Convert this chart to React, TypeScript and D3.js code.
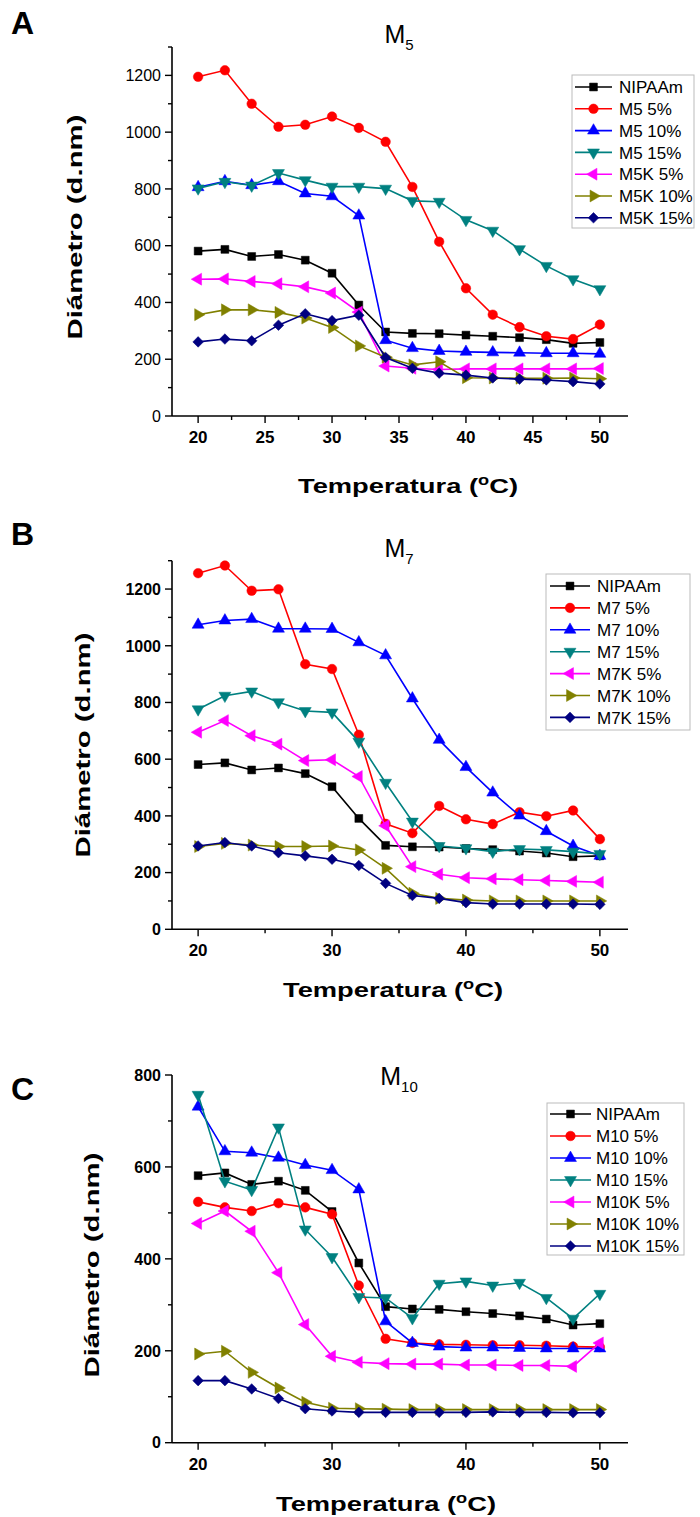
import React from "react";
import * as d3 from "d3";

const temps = [20, 22, 24, 26, 28, 30, 32, 34, 36, 38, 40, 42, 44, 46, 48, 50];

const nipaam = [581, 587, 562, 569, 549, 503, 391, 296, 291, 290, 285, 281, 276, 269, 256, 259];

const m5_5 = [1195, 1218, 1100, 1019, 1026, 1055, 1015, 966, 807, 614, 450, 357, 313, 281, 271, 322];
const m5_10 = [806, 827, 813, 827, 784, 774, 706, 267, 239, 229, 226, 224, 223, 221, 221, 219];
const m5_15 = [802, 825, 812, 856, 831, 808, 808, 801, 758, 755, 691, 653, 588, 529, 482, 447];
const m5k_5 = [482, 483, 474, 466, 455, 433, 366, 176, 168, 164, 166, 166, 166, 166, 166, 167];
const m5k_10 = [357, 374, 374, 365, 345, 312, 247, 207, 180, 191, 135, 134, 133, 133, 134, 131];
const m5k_15 = [261, 271, 265, 320, 360, 336, 355, 206, 168, 151, 144, 134, 130, 127, 121, 113];

const m7_5 = [1256, 1283, 1194, 1199, 935, 918, 686, 372, 339, 435, 388, 371, 413, 399, 419, 318];
const m7_10 = [1074, 1089, 1094, 1060, 1060, 1059, 1012, 966, 814, 668, 572, 482, 401, 346, 294, 259];
const m7_15 = [776, 824, 839, 801, 770, 765, 662, 517, 380, 294, 286, 274, 283, 280, 274, 266];
const m7k_5 = [695, 736, 683, 653, 595, 598, 539, 365, 221, 194, 182, 178, 175, 172, 169, 166];
const m7k_10 = [292, 303, 297, 292, 292, 294, 280, 215, 127, 109, 103, 100, 100, 100, 100, 100];
const m7k_15 = [294, 306, 294, 270, 259, 247, 225, 162, 119, 109, 94, 89, 89, 89, 89, 88];

const m10_5 = [524, 512, 504, 521, 512, 497, 342, 226, 217, 214, 213, 212, 212, 211, 209, 208];
const m10_10 = [731, 634, 631, 620, 604, 593, 551, 264, 217, 209, 207, 207, 206, 205, 205, 205];
const m10_15 = [757, 569, 550, 686, 464, 404, 317, 315, 271, 346, 351, 342, 348, 315, 270, 324];
const m10k_5 = [477, 504, 460, 370, 257, 188, 175, 172, 171, 171, 169, 169, 168, 168, 166, 217];
const m10k_10 = [193, 199, 153, 119, 88, 75, 74, 73, 72, 72, 72, 72, 72, 72, 72, 72];
const m10k_15 = [135, 135, 117, 96, 74, 69, 66, 66, 66, 66, 66, 67, 66, 66, 65, 65];

const colors = ["#000000", "#ff0000", "#0000ff", "#008080", "#ff00ff", "#808000", "#000080"];
const markers = ["square", "circle", "up", "down", "left", "right", "diamond"];

const namesA = ["NIPAAm", "M5 5%", "M5 10%", "M5 15%", "M5K 5%", "M5K 10%", "M5K 15%"];
const namesB = ["NIPAAm", "M7 5%", "M7 10%", "M7 15%", "M7K 5%", "M7K 10%", "M7K 15%"];
const namesC = ["NIPAAm", "M10 5%", "M10 10%", "M10 15%", "M10K 5%", "M10K 10%", "M10K 15%"];

const FONT = "'Liberation Sans', Arial, Helvetica, sans-serif";

function markerPath(kind: string) {
  if (kind === "square") return { d: d3.symbol(d3.symbolSquare, 62)()!, rot: 0 };
  if (kind === "circle") return { d: d3.symbol(d3.symbolCircle, 72)()!, rot: 0 };
  if (kind === "diamond") return { d: d3.symbol(d3.symbolSquare, 56)()!, rot: 45 };
  const tri = d3.symbol(d3.symbolTriangle, 62)()!;
  const rot = kind === "up" ? 0 : kind === "down" ? 180 : kind === "left" ? -90 : 90;
  return { d: tri, rot };
}

function Marker({ kind, x, y, color }: { kind: string; x: number; y: number; color: string }) {
  const m = markerPath(kind);
  return <path d={m.d} transform={`translate(${x},${y}) rotate(${m.rot})`} fill={color} stroke={color} strokeWidth={0.5} />;
}

type PanelCfg = {
  letter: string;
  letterY: number;
  titleSub: string;
  titleY: number;
  top: number;
  bottom: number;
  yMax: number;
  yMajor: number;
  xMajor: number;
  yBold: boolean;
  names: string[];
  series: number[][];
  legend: { x0: number; y0: number; x1: number; y1: number; lx0: number; lx1: number; tx: number; ry: number; dy: number };
  yTitleX: number;
  yTitleY: number;
  xTitleY: number;
  xTitleX: number;
};

const X_LEFT = 172;
const X_RIGHT = 628;

function Panel({ cfg }: { cfg: PanelCfg }) {
  const x = d3.scaleLinear().domain([18.05, 52.1]).range([X_LEFT, X_RIGHT]);
  const y = d3.scaleLinear().domain([0, cfg.yMax]).range([cfg.bottom, cfg.top]);
  const line = d3
    .line<number>()
    .x((_, i) => x(temps[i]))
    .y((v) => y(v));

  const yTicks = d3.range(0, cfg.yMax + 1, cfg.yMajor / 2);
  const xTicks = d3.range(20, 50.01, cfg.xMajor / 2);

  return (
    <g fontFamily={FONT}>
      <text x={11} y={cfg.letterY} fontSize={32} fontWeight="bold">{cfg.letter}</text>
      <text x={x(35)} y={cfg.titleY} textAnchor="middle" fontSize={25}>
        M<tspan fontSize={15} dy={7}>{cfg.titleSub}</tspan>
      </text>

      {/* axes */}
      <line x1={X_LEFT} x2={X_LEFT} y1={cfg.bottom} y2={cfg.top} stroke="#000" strokeWidth={1.6} />
      <line x1={X_LEFT} x2={X_RIGHT} y1={cfg.bottom} y2={cfg.bottom} stroke="#000" strokeWidth={1.6} />
      {yTicks.map((t, i) => {
        const major = Math.abs(t % cfg.yMajor) < 1e-6;
        return (
          <g key={"y" + i}>
            <line x1={X_LEFT} x2={X_LEFT - (major ? 7 : 4)} y1={y(t)} y2={y(t)} stroke="#000" strokeWidth={1.4} />
            {major && (
              <text x={X_LEFT - 11} y={y(t)} dy="0.36em" textAnchor="end" fontSize={16} fontWeight={cfg.yBold ? "bold" : "normal"}>
                {t}
              </text>
            )}
          </g>
        );
      })}
      {xTicks.map((t, i) => {
        const major = Math.abs(t % cfg.xMajor) < 1e-6;
        return (
          <g key={"x" + i}>
            <line x1={x(t)} x2={x(t)} y1={cfg.bottom} y2={cfg.bottom + (major ? 7 : 4)} stroke="#000" strokeWidth={1.4} />
            {major && (
              <text x={x(t)} y={cfg.bottom + 27} textAnchor="middle" fontSize={17} fontWeight="bold">
                {t}
              </text>
            )}
          </g>
        );
      })}

      {/* axis titles */}
      <text
        transform={`translate(${cfg.yTitleX},${cfg.yTitleY}) rotate(-90)`}
        textAnchor="middle"
        fontSize={21}
        fontWeight="bold"
        textLength={225}
        lengthAdjust="spacingAndGlyphs"
      >
        Diámetro (d.nm)
      </text>
      <text x={cfg.xTitleX} y={cfg.xTitleY} textAnchor="middle" fontSize={21} fontWeight="bold" textLength={220} lengthAdjust="spacingAndGlyphs">
        Temperatura (<tspan fontSize={14} dy={-8}>o</tspan><tspan dy={8}>C)</tspan>
      </text>

      {/* series */}
      {cfg.series.map((s, k) => (
        <g key={"s" + k}>
          <path d={line(s)!} fill="none" stroke={colors[k]} strokeWidth={1.6} />
          {s.map((v, i) => (
            <Marker key={i} kind={markers[k]} x={x(temps[i])} y={y(v)} color={colors[k]} />
          ))}
        </g>
      ))}

      {/* legend */}
      <rect
        x={cfg.legend.x0}
        y={cfg.legend.y0}
        width={cfg.legend.x1 - cfg.legend.x0}
        height={cfg.legend.y1 - cfg.legend.y0}
        fill="#fff"
        stroke="#bbb"
        strokeWidth={1}
      />
      {cfg.names.map((n, k) => {
        const ly = cfg.legend.ry + k * cfg.legend.dy;
        return (
          <g key={"l" + k}>
            <line x1={cfg.legend.lx0} x2={cfg.legend.lx1} y1={ly} y2={ly} stroke={colors[k]} strokeWidth={1.6} />
            <Marker kind={markers[k]} x={(cfg.legend.lx0 + cfg.legend.lx1) / 2} y={ly} color={colors[k]} />
            <text x={cfg.legend.tx} y={ly} dy="0.36em" fontSize={17}>{n}</text>
          </g>
        );
      })}
    </g>
  );
}

const panels: PanelCfg[] = [
  {
    letter: "A",
    letterY: 34,
    titleSub: "5",
    titleY: 43,
    top: 47,
    bottom: 416,
    yMax: 1300,
    yMajor: 200,
    xMajor: 5,
    yBold: false,
    names: namesA,
    series: [nipaam, m5_5, m5_10, m5_15, m5k_5, m5k_10, m5k_15],
    legend: { x0: 572, y0: 75, x1: 694, y1: 228, lx0: 575, lx1: 612, tx: 619, ry: 87, dy: 21.8 },
    yTitleX: 82,
    yTitleY: 227,
    xTitleY: 493,
    xTitleX: 408,
  },
  {
    letter: "B",
    letterY: 545,
    titleSub: "7",
    titleY: 557,
    top: 560.7,
    bottom: 929.3,
    yMax: 1300,
    yMajor: 200,
    xMajor: 10,
    yBold: true,
    names: namesB,
    series: [nipaam, m7_5, m7_10, m7_15, m7k_5, m7k_10, m7k_15],
    legend: { x0: 546, y0: 574, x1: 690, y1: 730, lx0: 550, lx1: 590, tx: 597, ry: 586, dy: 21.9 },
    yTitleX: 90,
    yTitleY: 745,
    xTitleY: 997,
    xTitleX: 393,
  },
  {
    letter: "C",
    letterY: 1100,
    titleSub: "10",
    titleY: 1085,
    top: 1075,
    bottom: 1442.7,
    yMax: 800,
    yMajor: 200,
    xMajor: 10,
    yBold: true,
    names: namesC,
    series: [nipaam, m10_5, m10_10, m10_15, m10k_5, m10k_10, m10k_15],
    legend: { x0: 547, y0: 1103, x1: 684, y1: 1255, lx0: 550, lx1: 591, tx: 596, ry: 1114, dy: 22 },
    yTitleX: 99,
    yTitleY: 1265,
    xTitleY: 1511,
    xTitleX: 386,
  },
];

export default function App() {
  return (
    <svg
      width={700}
      height={1517}
      viewBox="0 0 700 1517"
      style={{ position: "absolute", left: 0, top: 0, display: "block", background: "#fff" }}
    >
      <rect x={0} y={0} width={700} height={1517} fill="#fff" />
      {panels.map((p, i) => (
        <Panel key={i} cfg={p} />
      ))}
    </svg>
  );
}
